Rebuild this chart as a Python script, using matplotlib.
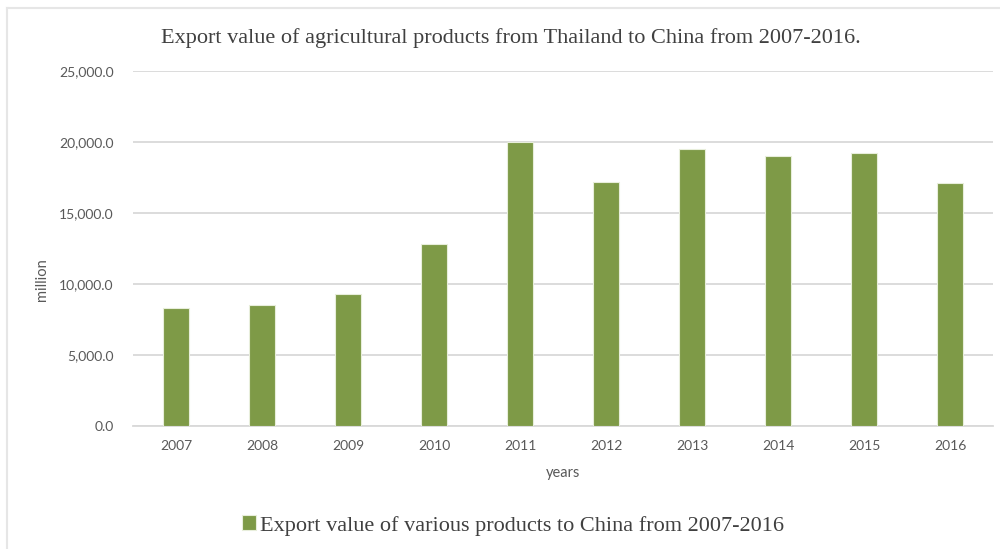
import matplotlib
matplotlib.use("Agg")
import matplotlib.pyplot as plt
from matplotlib.lines import Line2D
from matplotlib.ticker import FuncFormatter

years = ["2007", "2008", "2009", "2010", "2011", "2012", "2013", "2014", "2015", "2016"]
export_value = [8330, 8520, 9280, 12820, 19990, 17190, 19470, 19020, 19230, 17120]
yticks = [0, 5000, 10000, 15000, 20000, 25000]

bar_color = "#7e9a47"
grid_color = "#d9d9d9"
tick_color = "#595959"
sans = "Lato"
serif = "Liberation Serif"

fig = plt.figure(figsize=(10, 5.49), dpi=100)
ax = fig.add_axes([0.133, 0.224, 0.86, 0.647])

x = list(range(len(years)))
ax.bar(x, export_value, width=0.31, color=bar_color, edgecolor="#e8eedb",
       linewidth=0.8, zorder=3, label="Export value of various products to China from 2007-2016")

ax.set_xlim(-0.5, len(years) - 0.5)
ax.set_ylim(0, 25000)
ax.set_yticks(yticks)
ax.yaxis.set_major_formatter(FuncFormatter(lambda v, p: "{:,.1f}".format(v)))
ax.set_xticks(x)
ax.set_xticklabels(years)
ax.grid(axis="y", color=grid_color, linewidth=1.3, zorder=0)
for s in ["top", "right", "left"]:
    ax.spines[s].set_visible(False)
ax.spines["bottom"].set_color(grid_color)
ax.spines["bottom"].set_linewidth(1.3)
ax.tick_params(axis="both", length=0, labelsize=10, labelcolor=tick_color)
ax.tick_params(axis="x", pad=10)
ax.tick_params(axis="y", pad=14)
for lab in ax.get_xticklabels() + ax.get_yticklabels():
    lab.set_fontfamily(sans)

ax.set_xlabel("years", fontsize=10.5, color=tick_color, family=sans, labelpad=10)
fig.text(0.042, 0.49, "million", rotation=90, ha="center", va="center",
         fontsize=10.5, color=tick_color, family=sans)

fig.text(0.511, 0.93, "Export value of agricultural products from Thailand to China from 2007-2016.",
         ha="center", va="center", fontsize=16, color="#404040", family=serif)

leg = fig.legend(loc="center", bbox_to_anchor=(0.513, 0.043), frameon=False,
                 handlelength=0.65, handleheight=0.65, handletextpad=0.2,
                 prop={"family": serif, "size": 16})
for t in leg.get_texts():
    t.set_color("#404040")

# chart frame (top and left edges visible)
fig.add_artist(Line2D([0.007, 1.0], [0.985, 0.985], color="#e6e6e6", linewidth=1.5,
                      transform=fig.transFigure))
fig.add_artist(Line2D([0.007, 0.007], [0.0, 0.985], color="#e6e6e6", linewidth=1.5,
                      transform=fig.transFigure))

plt.savefig("out.png", dpi=100)
